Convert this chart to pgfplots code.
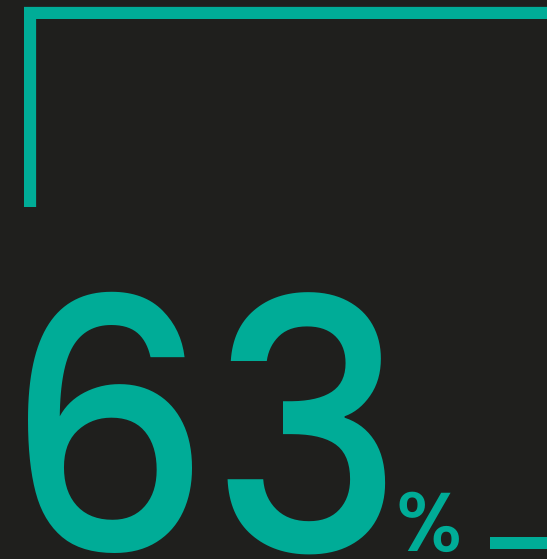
\documentclass[border=0pt]{standalone}
\usepackage{pgfplots}
\pgfplotsset{compat=1.18}
\usepackage{fontspec}
\setmainfont{Poppins}
\newfontfamily\pops{Poppins Medium}
\definecolor{bgc}{HTML}{1F1F1D}
\definecolor{tealc}{HTML}{00AC97}
\begin{document}
\begin{tikzpicture}[x=1bp,y=1bp]
\useasboundingbox (0,0) rectangle (547,559);
\clip (0,0) rectangle (547,559);
\fill[bgc] (0,0) rectangle (547,559);
\begin{axis}[at={(0,0)},anchor=south west,scale only axis,width=547bp,height=559bp,
  xmin=0,xmax=547,ymin=0,ymax=559,y dir=reverse,hide axis,clip=false]
\addplot[draw=none,fill=tealc] coordinates {(24,7) (547,7) (547,19) (36,19) (36,207) (24,207)} -- cycle;
\addplot[draw=none,fill=tealc] coordinates {(490,537) (547,537) (547,549) (490,549)} -- cycle;
\node[anchor=base west,inner sep=0pt,text=tealc,xscale=0.927] at (axis cs:4,553) {\pops\fontsize{351}{351}\selectfont 63};
\node[anchor=base west,inner sep=0pt,text=tealc] at (axis cs:396,551) {\pops\fontsize{84}{84}\selectfont \%};
\end{axis}
\end{tikzpicture}
\end{document}
